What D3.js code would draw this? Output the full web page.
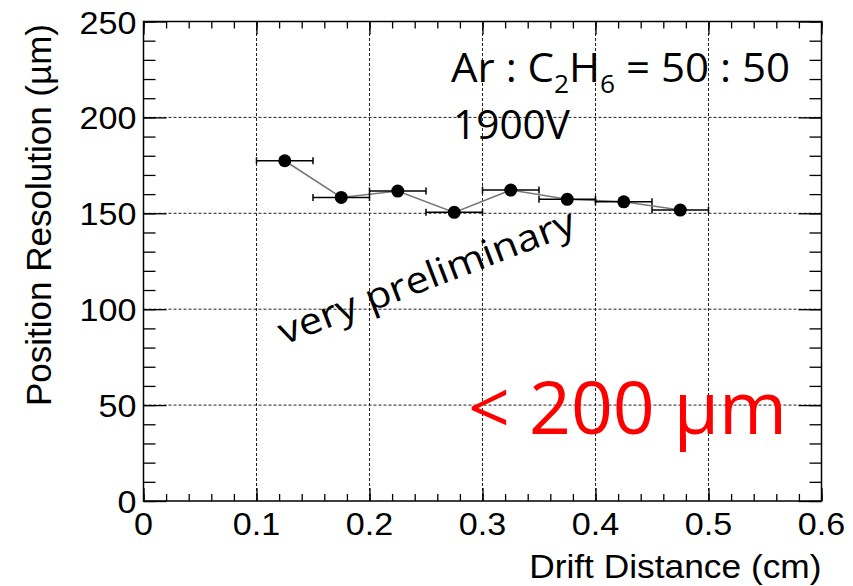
<!DOCTYPE html>
<html>
<head>
<meta charset="utf-8">
<script src="https://cdn.jsdelivr.net/npm/d3@7"></script>
<style>
  body { margin: 0; background: #fff; }
  svg { display: block; }
</style>
</head>
<body>
<div id="chart"></div>
<script>
// Data

var driftDistance = [0.125, 0.175, 0.225, 0.275, 0.325, 0.375, 0.425, 0.475];
var driftError = [0.025, 0.025, 0.025, 0.025, 0.025, 0.025, 0.025, 0.025];
var resolution = [177.4, 158.3, 161.6, 150.5, 162.1, 157.3, 156.0, 151.7];

var xTicks = [0, 0.1, 0.2, 0.3, 0.4, 0.5, 0.6];
var yTicks = [0, 50, 100, 150, 200, 250];

var xTitle = "Drift Distance (cm)";
var yTitle = "Position Resolution (\u00b5m)";

// Size

var w = 853;
var h = 586;
var margin = {top: 21.5, left: 143.5, bottom: 85, right: 31.5};

var x = d3.scaleLinear()
  .domain([0, 0.6])
  .range([margin.left, w - margin.right]);

var y = d3.scaleLinear()
  .domain([0, 250])
  .range([h - margin.bottom, margin.top]);

var svg = d3.select("#chart")
  .append("svg")
    .attr("width", w)
    .attr("height", h);

svg.append("rect")
  .attr("width", w)
  .attr("height", h)
  .attr("fill", "#fff");

// stretch text a bit wider, like the picture
function widen(sel, f) {
  sel.each(function() {
    var len = this.getComputedTextLength();
    d3.select(this)
      .attr("textLength", len * f)
      .attr("lengthAdjust", "spacingAndGlyphs");
  });
}

// Grid

var grid = svg.append("g")
  .attr("stroke", "#222")
  .attr("stroke-width", 1)
  .attr("stroke-dasharray", "3,2");

grid.selectAll("line.gx")
  .data(xTicks.slice(1, -1))
  .enter()
  .append("line")
  .attr("x1", d => x(d))
  .attr("x2", d => x(d))
  .attr("y1", y(0))
  .attr("y2", y(250));

grid.selectAll("line.gy")
  .data(yTicks.slice(1, -1))
  .enter()
  .append("line")
  .attr("x1", x(0))
  .attr("x2", x(0.6))
  .attr("y1", d => y(d))
  .attr("y2", d => y(d));

// Ticks (all four sides, ROOT style)

var xMinor = d3.range(31).map(i => i / 50);
var yMinor = d3.range(26).map(i => i * 10);
var plotW = x(0.6) - x(0);
var plotH = y(0) - y(250);

function tickAxis(axis, pos, values, size) {
  var g = svg.append("g")
    .attr("transform", pos)
    .call(axis.tickValues(values).tickSize(size).tickFormat(""));
  g.select(".domain").remove();
  g.selectAll("line").attr("stroke", "#000").attr("stroke-width", 1.3);
}

tickAxis(d3.axisTop(x), `translate(0,${y(0)})`, xMinor, 7);
tickAxis(d3.axisTop(x), `translate(0,${y(0)})`, xTicks, 13);
tickAxis(d3.axisBottom(x), `translate(0,${y(250)})`, xMinor, 7);
tickAxis(d3.axisBottom(x), `translate(0,${y(250)})`, xTicks, 13);
tickAxis(d3.axisRight(y), `translate(${x(0)},0)`, yMinor, 12);
tickAxis(d3.axisRight(y), `translate(${x(0)},0)`, yTicks, 23);
tickAxis(d3.axisLeft(y), `translate(${x(0.6)},0)`, yMinor, 12);
tickAxis(d3.axisLeft(y), `translate(${x(0.6)},0)`, yTicks, 23);

// Frame

svg.append("rect")
  .attr("x", x(0))
  .attr("y", y(250))
  .attr("width", plotW)
  .attr("height", plotH)
  .attr("fill", "none")
  .attr("stroke", "#000")
  .attr("stroke-width", 1.5);

// Tick labels

var xLab = svg.append("g")
  .attr("font-family", "'Liberation Sans', Arial, sans-serif")
  .attr("font-size", 31)
  .attr("fill", "#000")
  .attr("text-anchor", "middle");

xLab.selectAll("text")
  .data(xTicks)
  .enter()
  .append("text")
  .attr("x", d => x(d))
  .attr("y", 535)
  .text(d => d3.format("")(d))
  .call(widen, 1.1);

var yLab = svg.append("g")
  .attr("font-family", "'Liberation Sans', Arial, sans-serif")
  .attr("font-size", 31)
  .attr("fill", "#000")
  .attr("text-anchor", "end");

yLab.selectAll("text")
  .data(yTicks)
  .enter()
  .append("text")
  .attr("x", x(0) - 7)
  .attr("y", d => y(d) + 12)
  .text(d => d)
  .call(widen, 1.1);

// Axis titles

svg.append("text")
  .attr("x", w - margin.right)
  .attr("y", 578)
  .attr("text-anchor", "end")
  .attr("font-family", "'Liberation Sans', Arial, sans-serif")
  .attr("font-size", 33)
  .text(xTitle)
  .call(widen, 1.07);

svg.append("text")
  .attr("transform", `translate(51,215) rotate(-90)`)
  .attr("text-anchor", "middle")
  .attr("font-family", "'Liberation Sans', Arial, sans-serif")
  .attr("font-size", 35)
  .text(yTitle);

// Data line, error bars, markers

var pts = driftDistance.map((d, i) => ({x: d, ex: driftError[i], y: resolution[i]}));

svg.append("path")
  .datum(pts)
  .attr("fill", "none")
  .attr("stroke", "#777")
  .attr("stroke-width", 1.5)
  .attr("d", d3.line().x(d => x(d.x)).y(d => y(d.y)));

var bars = svg.append("g")
  .attr("stroke", "#000")
  .attr("stroke-width", 1.5);

bars.selectAll("line.bar")
  .data(pts)
  .enter()
  .append("line")
  .attr("x1", d => x(d.x - d.ex))
  .attr("x2", d => x(d.x + d.ex))
  .attr("y1", d => y(d.y))
  .attr("y2", d => y(d.y));

bars.selectAll("line.capl")
  .data(pts)
  .enter()
  .append("line")
  .attr("x1", d => x(d.x - d.ex))
  .attr("x2", d => x(d.x - d.ex))
  .attr("y1", d => y(d.y) - 3.5)
  .attr("y2", d => y(d.y) + 3.5);

bars.selectAll("line.capr")
  .data(pts)
  .enter()
  .append("line")
  .attr("x1", d => x(d.x + d.ex))
  .attr("x2", d => x(d.x + d.ex))
  .attr("y1", d => y(d.y) - 3.5)
  .attr("y2", d => y(d.y) + 3.5);

svg.append("g")
  .selectAll("circle")
  .data(pts)
  .enter()
  .append("circle")
  .attr("cx", d => x(d.x))
  .attr("cy", d => y(d.y))
  .attr("r", 6.5)
  .attr("fill", "#000");

// Annotations

var note = svg.append("g")
  .attr("font-family", "'Open Sans', Lato, sans-serif")
  .attr("fill", "#000");

var gas = note.append("text")
  .attr("x", 451)
  .attr("y", 82)
  .attr("font-size", 40);
gas.append("tspan").text("Ar : C");
gas.append("tspan").attr("font-size", 25).attr("dy", 11).text("2");
gas.append("tspan").attr("dy", -11).text("H");
gas.append("tspan").attr("font-size", 25).attr("dy", 11).text("6");
gas.append("tspan").attr("dy", -11).text(" = 50 : 50");
gas.attr("textLength", 339).attr("lengthAdjust", "spacingAndGlyphs");

note.append("text")
  .attr("x", 453)
  .attr("y", 139)
  .attr("font-size", 40)
  .attr("textLength", 117)
  .attr("lengthAdjust", "spacingAndGlyphs")
  .text("1900V");

note.append("text")
  .attr("transform", "translate(284,345) rotate(-21)")
  .attr("font-size", 37)
  .attr("textLength", 315)
  .attr("lengthAdjust", "spacingAndGlyphs")
  .text("very preliminary");

note.append("text")
  .attr("x", 468)
  .attr("y", 434)
  .attr("font-size", 73)
  .attr("fill", "#ff0000")
  .attr("textLength", 319)
  .attr("lengthAdjust", "spacingAndGlyphs")
  .text("< 200 \u00b5m");
</script>
</body>
</html>
